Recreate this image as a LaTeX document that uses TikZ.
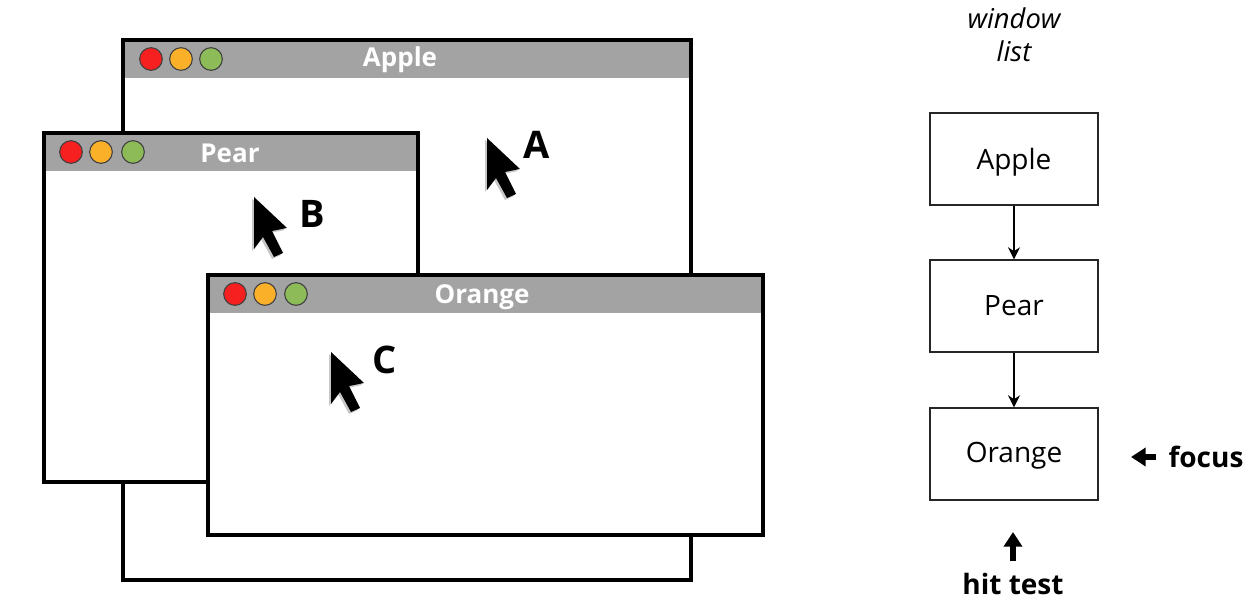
\documentclass[tikz,border=0pt]{standalone}
\usepackage{fontspec}
\setmainfont{Open Sans}
\usetikzlibrary{arrows.meta}
\definecolor{barG}{HTML}{A3A3A3}
\definecolor{dotR}{HTML}{F5201F}
\definecolor{dotO}{HTML}{FBB02A}
\definecolor{dotG}{HTML}{8DBB58}
\tikzset{
  x=0.75pt,y=-0.75pt,
  winframe/.style={draw=black,line width=3pt,fill=white,minimum width=#1,inner sep=0pt},
  titlebar/.style={fill=barG,inner sep=0pt,text=white,font=\bfseries\fontsize{19.5}{22}\selectfont},
  tl/.style={draw=black!75,line width=0.8pt,circle,minimum size=17pt,inner sep=0pt},
  listbox/.style={draw=black!85,line width=1pt,fill=white,minimum width=126pt,minimum height=69pt,inner sep=0pt,font=\fontsize{21}{24}\selectfont},
  letter/.style={inner sep=0pt,font=\bfseries\fontsize{28.5}{30}\selectfont},
  bold/.style={inner sep=0pt,font=\bfseries\fontsize{21}{24}\selectfont},
  ital/.style={inner sep=0pt,align=center,font=\itshape\fontsize{20.5}{25}\selectfont},
  thinarrow/.style={draw=black,line width=1.9pt,-{Stealth[length=9pt,width=9pt]}},
  fatarrow/.style={draw=black,line width=4.5pt,-{Triangle[length=11pt,width=13.5pt]}},
}
\newcommand{\cursorshape}[3]{% x, y, colour
  \fill[#3,shift={(#1,#2)}] (0,0) -- (33,31) -- (18,34) -- (29,56) -- (20,60) -- (9,40) -- (0,52) -- cycle;}
\newcommand{\cursorat}[2]{%
  \cursorshape{#1-2}{#2+2}{black!22}
  \cursorshape{#1}{#2}{black}}
\begin{document}
\begin{tikzpicture}
\useasboundingbox (0,0) rectangle (1256,598);
% Apple window
\node[winframe=426.25pt,minimum height=405pt] (wa) at (407.2,310) {};
\node[titlebar,minimum width=423.25pt,minimum height=27pt] (ta) at (407.2,60) {};
\node[titlebar] (tat) at (400,60) {Apple};
\node[tl,fill=dotR] (a1) at (151,59) {};
\node[tl,fill=dotO] (a2) at (181,59) {};
\node[tl,fill=dotG] (a3) at (211,59) {};
\cursorat{487}{138}
\node[letter] (la) at (537,145) {A};
% Pear window
\node[winframe=280.75pt,minimum height=261.75pt] (wp) at (231.2,307.5) {};
\node[titlebar,minimum width=277.75pt,minimum height=26.5pt] (tp) at (231.2,153) {};
\node[titlebar] (tpt) at (230,153) {Pear};
\node[tl,fill=dotR] (p1) at (71,152) {};
\node[tl,fill=dotO] (p2) at (101,152) {};
\node[tl,fill=dotG] (p3) at (133,152) {};
\cursorat{254}{197}
\node[letter] (lb) at (312,214) {B};
% Orange window
\node[winframe=416.5pt,minimum height=195pt] (wo) at (485.8,405) {};
\node[titlebar,minimum width=413.5pt,minimum height=27pt] (to) at (485.8,295.5) {};
\node[titlebar] (tot) at (482,297) {Orange};
\node[tl,fill=dotR] (o1) at (235,294) {};
\node[tl,fill=dotO] (o2) at (265,294) {};
\node[tl,fill=dotG] (o3) at (296,294) {};
\cursorat{331}{352}
\node[letter] (lc) at (385,360) {C};
% Window list
\node[ital] (wl) at (1014,35) {window\\list};
\node[listbox] (ba) at (1014,159) {};
\node[inner sep=0pt,font=\fontsize{21}{24}\selectfont] (bat) at (1014,162) {Apple};
\node[listbox] (bp) at (1014,306) {Pear};
\node[listbox] (bo) at (1014,454) {};
\node[inner sep=0pt,font=\fontsize{21}{24}\selectfont] (bot) at (1014,456) {Orange};
\draw[thinarrow] (ba) -- (bp);
\draw[thinarrow] (bp) -- (bo);
% Markers
\node[bold] (focus) at (1206,457) {focus};
\coordinate (ft) at (1131,457);
\coordinate (fs) at (1156,457);
\draw[fatarrow] (fs) -- (ft);
\node[bold] (hit) at (1013,584) {hit test};
\coordinate (ht) at (1013,532);
\coordinate (hs) at (1013,561);
\draw[fatarrow] (hs) -- (ht);
\end{tikzpicture}
\end{document}
